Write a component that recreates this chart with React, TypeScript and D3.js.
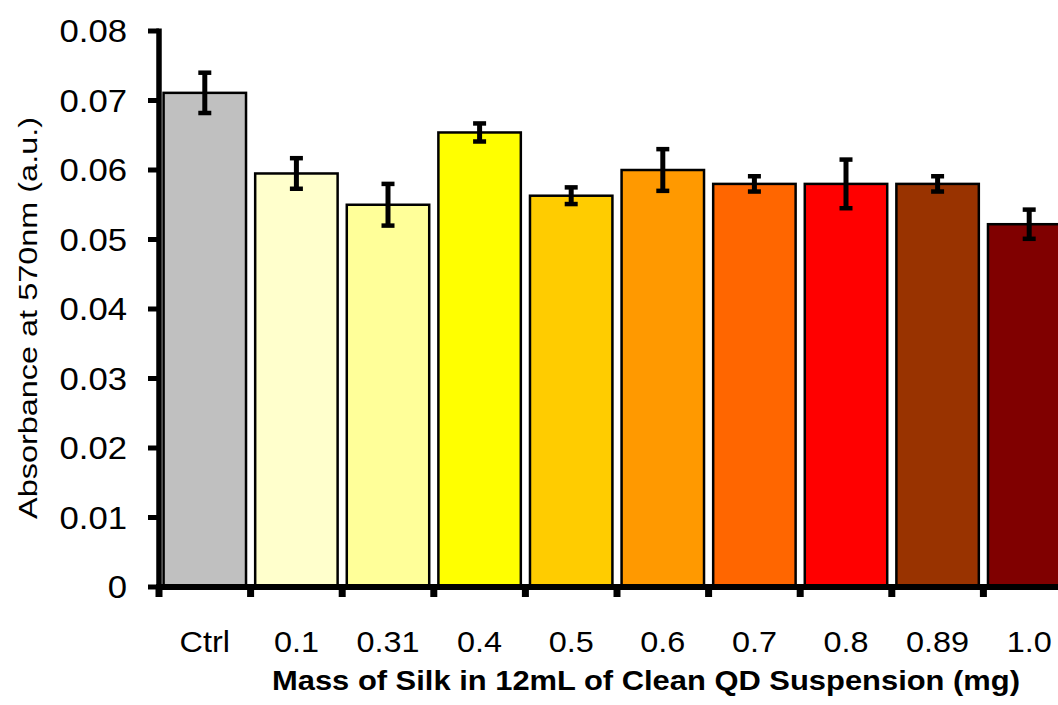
import * as d3 from "d3";
import React from "react";

// data
const categories = ["Ctrl", "0.1", "0.31", "0.4", "0.5", "0.6", "0.7", "0.8", "0.89", "1.0"];
const means = [0.0711, 0.0595, 0.055, 0.0654, 0.0563, 0.06, 0.058, 0.058, 0.058, 0.0522];
const errors = [0.0029, 0.0022, 0.003, 0.0013, 0.0012, 0.003, 0.0011, 0.0035, 0.0011, 0.0021];
const colors = ["#C0C0C0", "#FFFFCC", "#FFFF99", "#FFFF00", "#FFCC00", "#FF9900", "#FF6600", "#FF0000", "#993300", "#800000"];
const yTicks = [0, 0.01, 0.02, 0.03, 0.04, 0.05, 0.06, 0.07, 0.08];
const yTickLabels = ["0", "0.01", "0.02", "0.03", "0.04", "0.05", "0.06", "0.07", "0.08"];

const W = 1058;
const H = 705;
const FONT = "'Liberation Sans', Arial, sans-serif";

export default function App() {
  const x0 = 159;
  const step = 91.6;
  const x = d3
    .scaleBand()
    .domain(categories)
    .range([x0, x0 + step * categories.length])
    .paddingInner(0.1)
    .paddingOuter(0.05);
  const y = d3.scaleLinear().domain([0, 0.08]).range([587, 31]);
  const bw = x.bandwidth();
  const base = y(0);

  // band boundaries for x ticks
  const boundaries = d3.range(categories.length + 1).map((i) => x0 + i * x.step());

  return (
    <svg width={W} height={H} style={{ position: "absolute", left: 0, top: 0, background: "#fff" }}>
      {/* bars */}
      {categories.map((c, i) => (
        <rect
          key={c}
          x={x(c)}
          y={y(means[i])}
          width={bw}
          height={base - y(means[i])}
          fill={colors[i]}
          stroke="#000"
          strokeWidth={2.5}
        />
      ))}

      {/* error bars */}
      {categories.map((c, i) => {
        const cx = (x(c) as number) + bw / 2;
        const top = y(means[i] + errors[i]);
        const bot = y(means[i] - errors[i]);
        return (
          <g key={"e" + c} stroke="#000">
            <line x1={cx} x2={cx} y1={top} y2={bot} strokeWidth={5} />
            <line x1={cx - 6.5} x2={cx + 6.5} y1={top} y2={top} strokeWidth={4.5} />
            <line x1={cx - 6.5} x2={cx + 6.5} y1={bot} y2={bot} strokeWidth={4.5} />
          </g>
        );
      })}

      {/* y axis */}
      <line x1={159} x2={159} y1={28.5} y2={590} stroke="#000" strokeWidth={5.5} />
      {yTicks.map((t, i) => (
        <g key={"yt" + i}>
          <line x1={148} x2={159} y1={y(t)} y2={y(t)} stroke="#000" strokeWidth={5} />
          <text
            transform={`translate(127,${y(t) + 11}) scale(1.12,1)`}
            textAnchor="end"
            fontFamily={FONT}
            fontSize={31}
            fill="#000"
          >
            {yTickLabels[i]}
          </text>
        </g>
      ))}

      {/* x axis */}
      <line x1={156} x2={W + 20} y1={587} y2={587} stroke="#000" strokeWidth={6} />
      {boundaries.map((b, i) => (
        <line key={"xt" + i} x1={b} x2={b} y1={587} y2={597} stroke="#000" strokeWidth={7} />
      ))}
      {categories.map((c) => (
        <text
          key={"xl" + c}
          transform={`translate(${(x(c) as number) + bw / 2},652) scale(1.08,1)`}
          textAnchor="middle"
          fontFamily={FONT}
          fontSize={30}
          fill="#000"
        >
          {c}
        </text>
      ))}

      {/* axis titles */}
      <text
        x={646}
        y={690}
        textAnchor="middle"
        fontFamily={FONT}
        fontSize={28}
        fontWeight="bold"
        textLength={748}
        lengthAdjust="spacingAndGlyphs"
        fill="#000"
      >
        Mass of Silk in 12mL of Clean QD Suspension (mg)
      </text>
      <text
        transform="translate(37,318) rotate(-90)"
        textAnchor="middle"
        fontFamily={FONT}
        fontSize={26}
        textLength={402}
        lengthAdjust="spacingAndGlyphs"
        fill="#000"
      >
        Absorbance at 570nm (a.u.)
      </text>
    </svg>
  );
}
